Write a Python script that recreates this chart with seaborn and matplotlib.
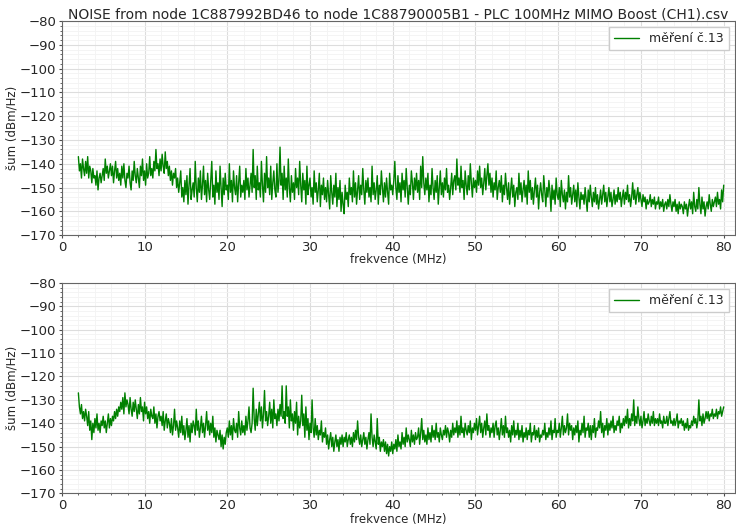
import numpy as np
import pandas as pd
import matplotlib
matplotlib.use("Agg")
import matplotlib.pyplot as plt
from matplotlib.ticker import MultipleLocator
import seaborn as sns

title = "NOISE from node 1C887992BD46 to node 1C88790005B1 - PLC 100MHz MIMO Boost (CH1).csv"
series_label = "měření č.13"
x_label = "frekvence (MHz)"
y_label = "šum (dBm/Hz)"

# noise, one row per MHz (2 .. 80 MHz, 8 samples per MHz)
noise_top = [
    -137, -143, -140, -146, -138, -142, -145, -139,
    -144, -137, -146, -141, -143, -148, -142, -146,
    -145, -149, -143, -151, -146, -144, -148, -145,
    -142, -147, -138, -144, -141, -146, -143, -140,
    -145, -141, -148, -143, -139, -146, -142, -147,
    -144, -149, -141, -146, -140, -147, -150, -144,
    -146, -141, -148, -151, -143, -147, -139, -145,
    -148, -142, -146, -150, -141, -145, -138, -147,
    -143, -149, -140, -146, -144, -137, -145, -142,
    -146, -139, -143, -134, -142, -140, -145, -138,
    -143, -136, -141, -144, -135, -142, -139, -145,
    -141, -147, -143, -149, -144, -146, -142, -150,
    -146, -152, -148, -143, -154, -150, -156, -147,
    -153, -145, -157, -149, -142, -155, -151, -148,
    -154, -139, -150, -156, -146, -152, -143, -155,
    -149, -141, -153, -147, -156, -144, -151, -155,
    -147, -139, -154, -149, -157, -143, -152, -148,
    -155, -141, -150, -158, -146, -153, -144, -151,
    -149, -155, -140, -152, -147, -156, -143, -150,
    -153, -145, -156, -148, -141, -154, -149, -152,
    -147, -155, -142, -151, -146, -154, -149, -144,
    -152, -134, -150, -145, -155, -141, -151, -148,
    -154, -139, -149, -156, -144, -152, -137, -150,
    -146, -153, -141, -155, -148, -143, -151, -154,
    -140, -152, -147, -133, -149, -144, -155, -141,
    -151, -146, -154, -138, -150, -156, -145, -152,
    -148, -155, -142, -150, -146, -153, -139, -149,
    -156, -144, -151, -147, -157, -141, -153, -149,
    -146, -154, -150, -157, -143, -152, -148, -156,
    -151, -144, -158, -149, -153, -146, -155, -150,
    -156, -147, -153, -159, -145, -152, -157, -149,
    -154, -144, -158, -150, -155, -147, -160, -152,
    -157, -161, -149, -155, -152, -158, -146, -153,
    -150, -156, -143, -154, -148, -157, -151, -145,
    -155, -149, -153, -142, -151, -157, -147, -152,
    -146, -154, -150, -156, -141, -153, -148, -155,
    -151, -145, -157, -149, -153, -143, -150, -156,
    -148, -154, -146, -152, -157, -144, -151, -149,
    -153, -147, -139, -150, -155, -145, -152, -148,
    -156, -144, -151, -147, -154, -142, -150, -157,
    -149, -153, -143, -148, -155, -146, -151, -144,
    -152, -147, -155, -141, -150, -137, -148, -153,
    -146, -151, -144, -156, -149, -153, -142, -150,
    -155, -147, -152, -145, -157, -150, -143, -153,
    -148, -154, -146, -151, -142, -152, -149, -155,
    -150, -144, -153, -147, -145, -151, -138, -149,
    -146, -152, -141, -150, -147, -155, -143, -149,
    -153, -145, -151, -140, -148, -154, -146, -150,
    -147, -152, -143, -149, -141, -150, -146, -153,
    -148, -142, -151, -145, -140, -149, -144, -152,
    -146, -154, -148, -151, -143, -155, -150, -147,
    -152, -145, -156, -149, -153, -144, -150, -155,
    -148, -157, -151, -146, -154, -149, -158, -152,
    -150, -155, -144, -153, -148, -156, -151, -147,
    -154, -149, -157, -143, -152, -147, -155, -150,
    -157, -151, -146, -154, -149, -159, -152, -148,
    -153, -156, -145, -151, -158, -150, -154, -147,
    -152, -160, -149, -155, -151, -157, -146, -153,
    -155, -150, -158, -147, -153, -156, -151, -159,
    -152, -156, -145, -154, -150, -157, -153, -149,
    -156, -151, -158, -148, -154, -159, -152, -155,
    -153, -157, -150, -155, -160, -151, -156, -149,
    -154, -158, -152, -156, -150, -157, -153, -159,
    -155, -151, -157, -153, -149, -156, -152, -158,
    -154, -150, -156, -152, -158, -155, -151, -157,
    -153, -156, -150, -155, -152, -158, -154, -151,
    -157, -152, -155, -149, -156, -153, -158, -154,
    -148, -155, -151, -157, -153, -150, -156, -152,
    -155, -158, -153, -156, -154, -159, -155, -157,
    -156, -153, -158, -155, -157, -154, -159, -156,
    -157, -154, -159, -156, -158, -155, -160, -157,
    -156, -159, -155, -158, -153, -157, -160, -156,
    -158, -155, -160, -157, -161, -156, -159, -157,
    -158, -161, -156, -159, -157, -162, -158, -155,
    -159, -156, -161, -152, -158, -160, -155, -159,
    -150, -157, -161, -154, -159, -156, -162, -158,
    -156, -159, -153, -157, -160, -155, -158, -156,
    -154, -158, -152, -157, -155, -159, -151, -156,
    -149,
]

noise_bottom = [
    -127, -133, -136, -132, -138, -135, -139, -134,
    -137, -141, -135, -143, -139, -147, -140, -144,
    -138, -142, -136, -143, -140, -144, -139, -141,
    -137, -142, -139, -144, -140, -136, -142, -138,
    -141, -137, -139, -135, -138, -134, -137, -133,
    -135, -131, -134, -129, -136, -127, -133, -130,
    -132, -136, -129, -134, -137, -131, -135, -130,
    -134, -138, -132, -136, -129, -135, -133, -139,
    -131, -136, -133, -138, -135, -140, -134, -137,
    -138, -133, -140, -136, -142, -137, -135, -139,
    -137, -141, -135, -143, -139, -136, -142, -138,
    -140, -144, -138, -145, -141, -134, -143, -139,
    -142, -146, -139, -144, -137, -145, -141, -147,
    -143, -138, -146, -141, -148, -140, -144, -139,
    -141, -145, -134, -143, -139, -146, -142, -137,
    -144, -140, -146, -141, -135, -143, -139, -145,
    -140, -144, -137, -146, -142, -148, -143, -145,
    -147, -143, -150, -145, -151, -146, -149, -144,
    -142, -146, -139, -145, -141, -147, -138, -143,
    -144, -140, -146, -135, -142, -145, -139, -144,
    -141, -145, -137, -143, -139, -133, -142, -144,
    -140, -125, -138, -143, -134, -141, -136, -131,
    -139, -133, -142, -136, -126, -139, -135, -141,
    -137, -131, -140, -134, -142, -130, -138, -136,
    -141, -134, -139, -132, -137, -124, -138, -135,
    -140, -124, -137, -133, -142, -130, -139, -136,
    -143, -135, -140, -131, -145, -137, -142, -139,
    -128, -141, -136, -146, -133, -143, -138, -147,
    -140, -144, -130, -142, -146, -138, -145, -141,
    -147, -143, -145, -139, -148, -144, -146, -142,
    -149, -145, -151, -147, -144, -150, -146, -152,
    -148, -145, -150, -147, -152, -146, -149, -145,
    -150, -146, -148, -144, -150, -147, -145, -149,
    -146, -150, -144, -148, -143, -147, -139, -146,
    -149, -145, -150, -147, -144, -149, -146, -151,
    -147, -144, -149, -136, -146, -150, -145, -148,
    -151, -138, -149, -146, -152, -148, -150, -147,
    -152, -148, -153, -149, -154, -150, -152, -148,
    -153, -149, -151, -147, -152, -145, -150, -148,
    -151, -144, -149, -146, -150, -142, -148, -145,
    -147, -150, -143, -148, -145, -149, -144, -147,
    -146, -142, -149, -144, -138, -147, -143, -148,
    -145, -149, -142, -147, -144, -148, -141, -146,
    -143, -147, -140, -146, -144, -148, -142, -145,
    -147, -143, -145, -141, -146, -142, -144, -148,
    -143, -146, -140, -145, -142, -144, -139, -146,
    -141, -145, -137, -144, -142, -146, -140, -143,
    -145, -141, -144, -139, -147, -142, -144, -140,
    -143, -138, -145, -141, -137, -144, -140, -146,
    -142, -139, -145, -136, -143, -141, -146, -142,
    -144, -140, -146, -141, -139, -145, -142, -147,
    -143, -138, -145, -141, -146, -137, -144, -142,
    -146, -143, -148, -141, -145, -139, -146, -143,
    -145, -140, -147, -143, -146, -141, -148, -144,
    -146, -142, -147, -143, -145, -140, -148, -144,
    -145, -141, -147, -143, -146, -142, -148, -145,
    -146, -143, -145, -140, -147, -144, -146, -142,
    -145, -139, -147, -143, -144, -138, -146, -143,
    -144, -140, -146, -142, -137, -145, -141, -144,
    -142, -136, -145, -140, -143, -141, -147, -142,
    -145, -141, -144, -139, -148, -143, -145, -140,
    -144, -137, -146, -142, -143, -140, -146, -141,
    -147, -141, -144, -138, -146, -142, -143, -139,
    -142, -135, -144, -140, -146, -141, -143, -138,
    -145, -140, -143, -139, -142, -137, -144, -141,
    -143, -139, -141, -137, -144, -140, -142, -138,
    -141, -137, -140, -134, -142, -138, -141, -136,
    -139, -130, -141, -137, -140, -133, -138, -141,
    -137, -142, -139, -135, -141, -138, -140, -136,
    -139, -141, -137, -140, -135, -141, -138, -140,
    -138, -141, -136, -140, -139, -142, -137, -140,
    -140, -137, -141, -138, -135, -140, -139, -141,
    -138, -141, -139, -136, -142, -139, -140, -138,
    -141, -139, -143, -140, -142, -138, -143, -141,
    -142, -139, -141, -137, -140, -138, -142, -139,
    -130, -139, -137, -141, -136, -140, -138, -135,
    -138, -135, -139, -136, -137, -134, -138, -136,
    -137, -134, -138, -135, -136, -133, -137, -135,
    -133,
]

freq = np.linspace(2, 80, len(noise_top))

sns.set_style("whitegrid")
plt.rcParams['font.family'] = ['DejaVu Sans']

fig = plt.figure(figsize=(7.36, 5.26), dpi=100)
ax1 = fig.add_axes([0.084, 0.553, 0.915, 0.407])
ax2 = fig.add_axes([0.084, 0.062, 0.915, 0.400])

for ax, vals in [(ax1, noise_top), (ax2, noise_bottom)]:
    df = pd.DataFrame({"f": freq, "n": vals})
    sns.lineplot(data=df, x="f", y="n", color="green", lw=1, label=series_label, ax=ax)
    ax.set_xlim(0, 81.4)
    ax.set_ylim(-170, -80)
    ax.yaxis.set_major_locator(MultipleLocator(10))
    ax.yaxis.set_minor_locator(MultipleLocator(2))
    ax.xaxis.set_major_locator(MultipleLocator(10))
    ax.xaxis.set_minor_locator(MultipleLocator(2))
    ax.grid(which="major", color="#dddddd", lw=0.8)
    ax.grid(which="minor", color="#f3f3f3", lw=0.6)
    ax.tick_params(which="major", left=True, bottom=True, length=2.5, width=0.8,
                   color="0.3", labelsize=9.5, pad=1.5)
    ax.tick_params(which="minor", left=True, bottom=True, length=1.5, width=0.6, color="0.3")
    for s in ax.spines.values():
        s.set_color("0.4")
        s.set_linewidth(0.8)
    ax.set_xlabel(x_label, fontsize=8.5)
    ax.set_ylabel(y_label, fontsize=8.5)
    ax.yaxis.set_label_coords(-0.064, 0.5)
    ax.legend(loc="upper right", fontsize=9, frameon=True, framealpha=1,
              edgecolor="#cccccc", fancybox=False)

ax1.xaxis.set_label_coords(0.5, -0.085)
ax2.xaxis.set_label_coords(0.5, -0.092)
ax1.set_title(title, fontsize=10.0, pad=2)

fig.savefig("out.png", dpi=100)
